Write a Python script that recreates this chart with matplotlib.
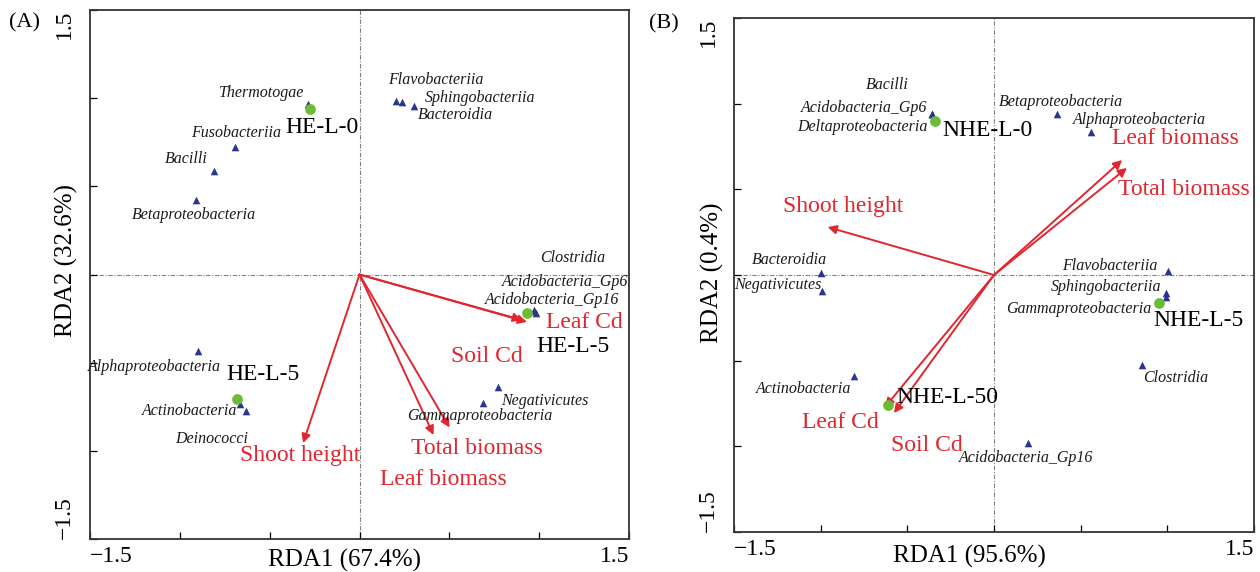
import matplotlib
matplotlib.use("Agg")
from matplotlib import pyplot as plt

plt.rcParams['font.family'] = ['Liberation Serif', 'DejaVu Serif']
plt.rcParams['axes.unicode_minus'] = True

RED = '#e0262e'
BLUE = '#2b3590'
GREEN = '#6cbb34'

# ---- panel A data ----
a_species = ['Thermotogae', 'Flavobacteriia', 'Sphingobacteriia', 'Bacteroidia',
             'Fusobacteriia', 'Bacilli', 'Betaproteobacteria', 'Clostridia',
             'Acidobacteria_Gp6', 'Acidobacteria_Gp16', 'Alphaproteobacteria',
             'Actinobacteria', 'Deinococci', 'Negativicutes', 'Gammaproteobacteria']
a_sp_x = [-0.284, 0.203, 0.237, 0.306, -0.693, -0.810, -0.910, 0.971,
          0.971, 0.982, -0.901, -0.665, -0.632, 0.771, 0.687]
a_sp_y = [0.967, 0.984, 0.978, 0.956, 0.723, 0.587, 0.423, -0.207,
          -0.201, -0.216, -0.434, -0.735, -0.774, -0.638, -0.729]
a_samples = ['HE-L-0', 'HE-L-5', 'HE-L-5']
a_smp_x = [-0.277, -0.682, 0.932]
a_smp_y = [0.939, -0.706, -0.218]
a_env = ['Leaf Cd', 'Soil Cd', 'Shoot height', 'Total biomass', 'Leaf biomass']
a_env_x = [0.932, 0.904, -0.314, 0.412, 0.501]
a_env_y = [-0.269, -0.258, -0.956, -0.910, -0.868]

# ---- panel B data ----
b_species = ['Bacilli', 'Acidobacteria_Gp6', 'Deltaproteobacteria',
             'Betaproteobacteria', 'Alphaproteobacteria', 'Bacteroidia',
             'Negativicutes', 'Flavobacteriia', 'Sphingobacteriia',
             'Gammaproteobacteria', 'Clostridia', 'Actinobacteria',
             'Acidobacteria_Gp16']
b_sp_x = [-0.360, -0.360, -0.360, 0.361, 0.560, -1.000, -0.995, 1.001,
          0.992, 0.992, 0.854, -0.808, 0.196]
b_sp_y = [0.940, 0.940, 0.940, 0.940, 0.835, 0.012, -0.092, 0.023,
          -0.107, -0.130, -0.525, -0.590, -0.981]
b_samples = ['NHE-L-0', 'NHE-L-5', 'NHE-L-50']
b_smp_x = [-0.342, 0.952, -0.612]
b_smp_y = [0.899, -0.161, -0.759]
b_env = ['Shoot height', 'Leaf biomass', 'Total biomass', 'Leaf Cd', 'Soil Cd']
b_env_x = [-0.960, 0.739, 0.767, -0.629, -0.577]
b_env_y = [0.280, 0.671, 0.625, -0.771, -0.806]

# label placement (offset in pixels, horizontal alignment)
a_sp_lab = [(-4, 11, 'right'), (-8, 21, 'left'), (23, 4, 'left'), (3, -9, 'left'),
            (1, 14, 'center'), (-6, 12, 'right'), (-2, -15, 'center'), (6, 53, 'left'),
            (31, 28, 'center'), (16, 13, 'center'), (-43, -16, 'center'),
            (-3, -7, 'right'), (-34, -28, 'center'), (3, -14, 'left'),
            (-3, -13, 'center')]
a_smp_lab = [(-24, -19, 'left'), (-11, 24, 'left'), (9, -34, 'left')]
a_env_lab = [(19, -1, 'left'), (-35, -37, 'center'), (-3, -12, 'center'),
             (43, -14, 'center'), (-6, -52, 'center')]

b_sp_lab = [(-44, 29, 'center'), (-4, 6, 'right'), (-4, -13, 'right'),
            (4, 12, 'center'), (48, 12, 'center'), (-31, 13, 'center'),
            (0, 6, 'right'), (-10, 5, 'right'), (-5, 6, 'right'),
            (-15, -12, 'right'), (1, -13, 'left'), (-3, -13, 'right'),
            (-2, -15, 'center')]
b_smp_lab = [(8, -10, 'left'), (-6, -18, 'left'), (8, 8, 'left')]
b_env_lab = [(16, 21, 'center'), (-10, 22, 'left'), (-9, -22, 'left'),
             (-6, -15, 'right'), (-3, -32, 'left')]


def draw_panel(ax, sp, sx, sy, sp_lab, smp, mx, my, smp_lab, env, ex, ey, env_lab,
               xlab, ylab, xlab_pos, ylab_pos):
    ax.set_xlim(-1.5, 1.5)
    ax.set_ylim(-1.5, 1.5)
    ax.axhline(0, color='#808080', lw=0.8, ls=(0, (4, 1.5, 1, 1.5)), zorder=1)
    ax.axvline(0, color='#808080', lw=0.8, ls=(0, (4, 1.5, 1, 1.5)), zorder=1)

    # environmental arrows
    for name, x, y, (dx, dy, ha) in zip(env, ex, ey, env_lab):
        ax.annotate('', xy=(x, y), xytext=(0, 0),
                    arrowprops=dict(arrowstyle='-|>', color=RED, lw=1.4,
                                    mutation_scale=13, shrinkA=0, shrinkB=0),
                    zorder=3)
        ax.annotate(name, xy=(x, y), xytext=(dx, dy), textcoords='offset pixels',
                    ha=ha, va='center', fontsize=17, color=RED, zorder=5)

    ax.scatter(sx, sy, marker='^', s=30, color=BLUE, zorder=4, linewidths=0)
    for name, x, y, (dx, dy, ha) in zip(sp, sx, sy, sp_lab):
        ax.annotate(name, xy=(x, y), xytext=(dx, dy), textcoords='offset pixels',
                    ha=ha, va='center', fontsize=11.5, style='italic',
                    color='#1a1a1a', zorder=5)

    ax.scatter(mx, my, marker='o', s=60, color=GREEN, zorder=4, linewidths=0)
    for name, x, y, (dx, dy, ha) in zip(smp, mx, my, smp_lab):
        ax.annotate(name, xy=(x, y), xytext=(dx, dy), textcoords='offset pixels',
                    ha=ha, va='center', fontsize=17, color='black', zorder=5)

    ticks = [-1.5, -1, -0.5, 0, 0.5, 1, 1.5]
    labels = ['\u22121.5', '', '', '', '', '', '1.5']
    ax.set_xticks(ticks)
    ax.set_xticklabels(labels, fontsize=17)
    ax.set_yticks(ticks)
    ax.set_yticklabels(labels, fontsize=17, rotation=90)
    ax.tick_params(direction='in', length=5, width=0.9, top=False, right=False)
    ax.tick_params(axis='x', pad=5)
    ax.tick_params(axis='y', pad=11)
    xl = ax.get_xticklabels()
    xl[0].set_ha('left')
    xl[-1].set_ha('right')
    yl = ax.get_yticklabels()
    yl[0].set_va('bottom')
    yl[-1].set_va('top')

    ax.set_xlabel(xlab, fontsize=18, va='center')
    ax.xaxis.set_label_coords(*xlab_pos)
    ax.set_ylabel(ylab, fontsize=18, va='center')
    ax.yaxis.set_label_coords(*ylab_pos)
    for s in ax.spines.values():
        s.set_color('#333333')
        s.set_linewidth(1.3)


def main():
    fig = plt.figure(figsize=(12.6, 5.72), dpi=100)
    ax1 = fig.add_axes([90 / 1260, 33 / 572, 539 / 1260, 529 / 572])
    ax2 = fig.add_axes([734 / 1260, 40 / 572, 520 / 1260, 514 / 572])

    draw_panel(ax1, a_species, a_sp_x, a_sp_y, a_sp_lab,
               a_samples, a_smp_x, a_smp_y, a_smp_lab,
               a_env, a_env_x, a_env_y, a_env_lab,
               'RDA1 (67.4%)', 'RDA2 (32.6%)', (0.473, -0.040), (-0.043, 0.527))
    draw_panel(ax2, b_species, b_sp_x, b_sp_y, b_sp_lab,
               b_samples, b_smp_x, b_smp_y, b_smp_lab,
               b_env, b_env_x, b_env_y, b_env_lab,
               'RDA1 (95.6%)', 'RDA2 (0.4%)', (0.452, -0.047), (-0.042, 0.504))

    fig.text(24 / 1260, 1 - 23 / 572, '(A)', fontsize=16, ha='center', va='center')
    fig.text(664 / 1260, 1 - 24 / 572, '(B)', fontsize=16, ha='center', va='center')

    fig.savefig('out.png', dpi=100)


if __name__ == '__main__':
    main()
